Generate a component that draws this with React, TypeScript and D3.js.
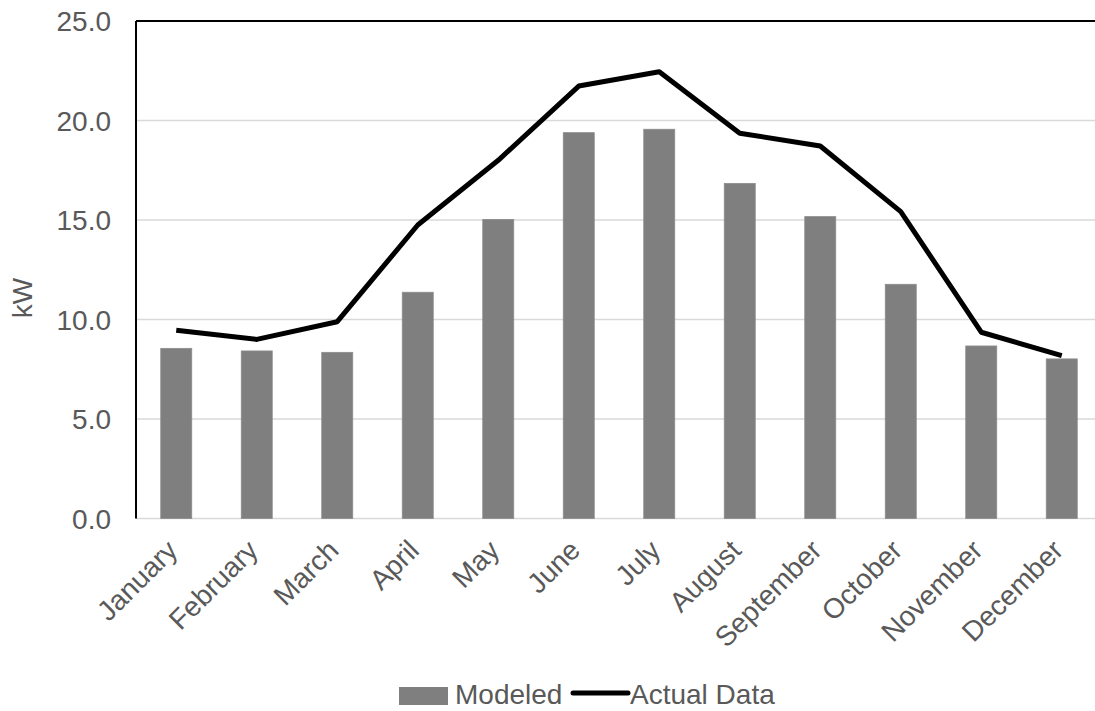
import React from "react";
import * as d3 from "d3";

// Monthly demand: modeled (bars) vs. actual (line), in kW
const months = [
  "January", "February", "March", "April", "May", "June",
  "July", "August", "September", "October", "November", "December",
];
const modeled = [8.55, 8.42, 8.35, 11.37, 15.03, 19.39, 19.56, 16.84, 15.17, 11.77, 8.67, 8.02];
const actual = [9.46, 9.0, 9.89, 14.75, 18.0, 21.73, 22.45, 19.36, 18.72, 15.42, 9.36, 8.18];
const yTicks = [0, 5, 10, 15, 20, 25];

const W = 1095;
const H = 711;
const left = 136;
const top = 21;
const bottom = 518.5;
const step = 80.5;
const right = left + step * months.length;

const FONT = "'Liberation Sans', Arial, sans-serif";
const TEXT = "#595959";

export default function App() {
  const x = d3.scaleBand<string>().domain(months).range([left, right]).padding(0);
  const y = d3.scaleLinear().domain([0, 25]).range([bottom, top]);
  const barW = x.bandwidth() * 0.385;
  const cx = (m: string) => (x(m) as number) + x.bandwidth() / 2;

  const line = d3
    .line<number>()
    .x((_, i) => cx(months[i]))
    .y((d) => y(d));

  return (
    <div style={{ position: "absolute", left: 0, top: 0 }}>
      <svg width={W} height={H} style={{ display: "block", background: "#fff" }} fontFamily={FONT}>
        {/* horizontal gridlines */}
        {yTicks.map((t) => (
          <line key={t} x1={left} x2={right} y1={y(t)} y2={y(t)} stroke="#d9d9d9" strokeWidth={1.5} />
        ))}
        {/* y tick labels */}
        {yTicks.map((t) => (
          <text key={t} x={111} y={y(t)} dy="0.36em" textAnchor="end" fontSize={28} fill={TEXT}>
            {t.toFixed(1)}
          </text>
        ))}
        {/* axis title */}
        <text transform={`translate(32,298) rotate(-90)`} textAnchor="middle" fontSize={28} fill={TEXT}>
          kW
        </text>
        {/* modeled bars */}
        {modeled.map((v, i) => (
          <rect
            key={months[i]}
            x={cx(months[i]) - barW / 2}
            y={y(v)}
            width={barW}
            height={y(0) - y(v)}
            fill="#7f7f7f"
            stroke="#8c8c8c"
            strokeWidth={0.8}
          />
        ))}
        {/* actual data line */}
        <path d={line(actual) ?? ""} fill="none" stroke="#000" strokeWidth={5} strokeLinejoin="round" />
        {/* plot frame: left axis and top edge */}
        <line x1={left} x2={left} y1={top} y2={bottom} stroke="#000" strokeWidth={2} />
        <line x1={left} x2={right} y1={top} y2={top} stroke="#000" strokeWidth={2} />
        {/* month labels */}
        {months.map((m) => (
          <text
            key={m}
            transform={`translate(${cx(m) + 3},552) rotate(-45)`}
            textAnchor="end"
            fontSize={28}
            fill={TEXT}
          >
            {m}
          </text>
        ))}
        {/* legend */}
        <rect x={399} y={687} width={49} height={18} fill="#7f7f7f" />
        <text x={455} y={704} fontSize={28} fill={TEXT}>
          Modeled
        </text>
        <line x1={573} x2={628} y1={693} y2={693} stroke="#000" strokeWidth={5} strokeLinecap="round" />
        <text x={630} y={704} fontSize={28} fill={TEXT}>
          Actual Data
        </text>
      </svg>
    </div>
  );
}
